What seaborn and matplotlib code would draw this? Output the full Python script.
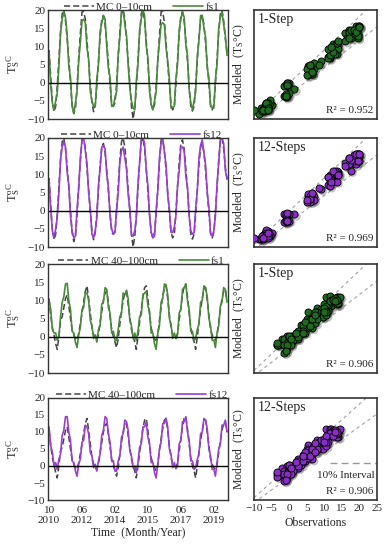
import matplotlib
matplotlib.use("Agg")
import matplotlib.pyplot as plt
import matplotlib.transforms as mtransforms
import numpy as np
import pandas as pd
import seaborn as sb

# monthly soil temperature (deg C), Oct 2010 .. Oct 2019
mc_0_10 = [9.0, 1.5, -5.0,
           -8.0, -6.5, -1.0, 6.5, 14.0, 19.0, 20.0, 17.0, 12.0, 6.5, 0.0, -6.0,
           -8.5, -7.0, -1.5, 7.0, 13.5, 19.5, 19.5, 17.5, 11.5, 6.0, -0.5, -5.5,
           -8.0, -6.0, -1.0, 6.0, 12.5, 17.5, 18.5, 16.0, 11.0, 5.5, -0.5, -6.0,
           -6.5, -5.5, -0.5, 7.0, 14.0, 19.0, 20.0, 17.5, 12.0, 6.0, 0.0, -6.5,
           -10.0, -7.0, -1.5, 6.5, 13.5, 19.0, 20.0, 17.0, 11.5, 5.5, -1.0, -6.0,
           -7.5, -6.0, -1.0, 6.0, 13.0, 19.5, 19.5, 16.5, 11.0, 5.0, -0.5, -6.0,
           -7.5, -6.5, -0.5, 6.5, 13.5, 18.5, 19.5, 17.0, 11.5, 6.0, -1.0, -6.5,
           -7.8, -6.5, -1.0, 6.0, 12.5, 17.5, 18.5, 16.0, 11.0, 5.0, -0.5, -6.0,
           -7.5, -6.0, -0.5, 6.5, 14.0, 19.0, 20.0, 17.0, 12.0, 8.5]
fs1_0_10 = [8.5, -0.5, -5.5,
            -7.5, -5.0, -3.0, 4.5, 13.5, 17.5, 19.5, 18.0, 13.0, 4.5, 1.5, -6.5,
            -8.5, -5.5, -2.5, 6.0, 11.0, 17.0, 17.5, 16.5, 9.5, 6.5, -2.5, -5.0,
            -6.5, -6.5, 1.0, 5.0, 14.0, 16.5, 18.5, 17.5, 10.0, 4.0, 1.5, -6.5,
            -6.5, -4.0, -2.5, 8.0, 12.5, 20.0, 20.0, 16.0, 13.0, 5.0, -1.5, -5.0,
            -7.0, -7.5, 0.5, 5.0, 14.5, 17.5, 20.0, 18.5, 10.0, 7.0, -2.5, -6.0,
            -7.5, -5.0, -2.5, 6.5, 11.0, 16.0, 16.5, 16.0, 9.5, 6.0, 1.0, -7.0,
            -6.8, -6.5, 1.0, 5.0, 14.5, 17.5, 19.5, 18.0, 10.5, 7.5, -2.0, -5.5,
            -7.5, -5.0, -2.5, 7.5, 11.5, 18.5, 18.5, 15.0, 12.5, 4.0, 1.5, -6.5,
            -7.0, -7.0, 1.0, 5.0, 15.0, 18.0, 19.5, 16.0, 13.0, 7.5]
fs12_0_10 = [8.5, 0.5, -5.5,
             -7.5, -5.0, -2.0, 5.0, 14.0, 17.5, 19.0, 17.5, 10.5, 7.0, -1.5, -5.5,
             -7.5, -7.0, 0.5, 6.0, 14.5, 19.5, 20.0, 16.5, 13.0, 5.0, 0.5, -6.5,
             -7.5, -5.5, -2.0, 7.0, 11.5, 17.5, 18.0, 17.0, 10.0, 6.5, -1.5, -5.0,
             -6.5, -6.0, 0.5, 5.0, 13.5, 16.5, 17.5, 14.5, 11.5, 4.5, 0.5, -6.5,
             -7.0, -5.5, -2.0, 7.5, 13.0, 20.0, 20.0, 18.5, 11.0, 7.0, -1.5, -6.0,
             -7.5, -7.0, 0.0, 5.5, 14.5, 18.5, 20.0, 16.0, 12.5, 4.5, 0.5, -6.0,
             -6.0, -4.5, -1.5, 7.0, 11.0, 17.5, 17.5, 16.5, 9.5, 6.5, -1.5, -5.5,
             -6.5, -6.0, 0.5, 5.5, 14.5, 18.0, 19.5, 16.0, 12.5, 5.0, 1.0, -6.5,
             -7.0, -5.5, -1.5, 7.5, 13.0, 20.0, 20.0, 18.5, 11.0, 9.0]
mc_40_100 = [10.5, 6.0, 2.5,
             0.5, -2.0, -3.5, 0.0, 4.5, 5.5, 8.0, 10.5, 11.5, 8.5, 5.0, 2.0,
             0.5, -0.5, -1.0, 1.0, 3.5, 6.5, 9.5, 12.5, 14.0, 10.5, 6.5, 2.5,
             0.5, -0.5, -1.0, 0.5, 4.0, 7.0, 10.0, 12.0, 12.5, 9.5, 5.5, 2.0,
             0.0, -1.5, -3.0, -0.5, 3.5, 7.0, 10.0, 12.0, 12.5, 9.0, 5.5, 2.0,
             0.0, -1.5, -3.5, 0.0, 4.0, 7.5, 11.0, 13.5, 14.0, 10.5, 6.0, 2.5,
             0.5, -0.5, -1.5, 0.5, 4.5, 8.0, 11.0, 13.5, 14.0, 10.5, 6.0, 2.5,
             0.5, 0.0, -0.5, 1.0, 4.5, 8.0, 11.5, 14.0, 14.5, 11.0, 6.5, 2.5,
             0.0, -1.5, -3.5, 0.0, 4.0, 7.5, 10.5, 13.0, 13.5, 10.0, 6.0, 2.0,
             0.5, -0.5, -1.0, 0.5, 4.0, 7.5, 10.5, 12.5, 13.0, 10.0]
fs1_40_100 = [10.0, 7.5, 2.0,
              1.0, 1.0, -1.0, 0.0, 5.5, 9.5, 11.0, 14.5, 14.7, 10.0, 7.5, 1.5,
              1.0, -1.5, -3.0, 0.5, 2.5, 7.5, 8.0, 12.0, 12.0, 10.0, 4.5, 3.0,
              -0.5, 0.5, -1.5, 2.0, 3.0, 9.0, 9.5, 13.5, 13.0, 8.0, 6.5, 1.0,
              1.5, -1.0, -1.0, 2.0, 5.5, 6.5, 12.0, 11.5, 12.8, 10.5, 4.5, 3.0,
              -0.5, 1.0, -1.0, 1.5, 5.5, 6.0, 11.5, 12.0, 12.5, 8.5, 7.0, 1.0,
              1.0, -2.0, -3.5, 1.0, 3.0, 9.5, 10.5, 14.5, 14.3, 11.5, 5.0, 3.5,
              -0.5, 1.0, -0.5, 0.5, 6.5, 7.5, 13.0, 13.5, 14.5, 10.0, 7.5, 1.5,
              1.5, -1.0, -0.5, 2.0, 3.5, 9.5, 10.0, 14.0, 13.5, 11.0, 5.0, 3.0,
              -1.0, -1.0, -3.0, 1.0, 3.0, 8.5, 9.5, 13.5, 13.0, 9.5]
fs12_40_100 = [11.5, 6.0, 4.0,
               0.0, 1.0, -1.0, 2.0, 3.5, 9.0, 10.5, 14.5, 14.5, 10.0, 7.5, 1.5,
               1.0, -1.5, -3.0, 0.5, 2.0, 7.0, 7.5, 12.0, 11.5, 9.5, 4.0, 3.0,
               -0.5, 0.5, -1.5, 1.5, 3.5, 9.0, 10.5, 14.5, 14.0, 9.5, 7.0, 1.5,
               1.5, -1.5, -1.5, 1.5, 3.0, 8.5, 9.5, 13.5, 13.0, 10.5, 4.5, 3.0,
               -0.5, 0.0, -2.0, 1.0, 5.5, 6.5, 11.5, 11.5, 13.0, 8.5, 6.5, 1.0,
               1.0, -2.0, -3.5, 0.5, 5.0, 7.0, 12.5, 12.5, 14.0, 11.5, 5.0, 3.5,
               -0.5, 1.0, -0.8, 0.0, 6.5, 7.5, 13.0, 13.0, 14.5, 10.0, 7.5, 1.5,
               1.5, -1.0, -0.5, 2.0, 3.5, 9.5, 10.0, 14.0, 13.5, 11.0, 5.0, 3.0,
               -1.0, -1.0, -3.0, 1.0, 5.0, 6.5, 12.0, 12.0, 13.5, 10.0]

r2_values = [0.952, 0.969, 0.906, 0.906]
step_names = ["1-Step", "12-Steps", "1-Step", "12-Steps"]
depth_names = ["MC 0\u201310cm", "MC 0\u201310cm", "MC 40\u2013100cm", "MC 40\u2013100cm"]
model_names = ["fs1", "fs12", "fs1", "fs12"]
time_ticks = ["2010-10-01", "2012-06-01", "2014-02-01", "2015-10-01", "2017-06-01", "2019-02-01"]
time_ticklabels = ["10\n2010", "06\n2012", "02\n2014", "10\n2015", "06\n2017", "02\n2019"]

green_line = "#4a8a3c"
green_pt = "#1f6a1f"
purple_line = "#9a3fcf"
purple_pt = "#8a2fc6"

sb.set_style("white")
plt.rcParams["font.family"] = ["Liberation Serif", "DejaVu Serif"]
plt.rcParams["mathtext.fontset"] = "stix"

dates = pd.date_range("2010-10-01", periods=len(mc_0_10), freq="MS")
panels = [
    (mc_0_10, fs1_0_10, green_line, green_pt),
    (mc_0_10, fs12_0_10, purple_line, purple_pt),
    (mc_40_100, fs1_40_100, green_line, green_pt),
    (mc_40_100, fs12_40_100, purple_line, purple_pt),
]

fig = plt.figure(figsize=(3.86, 5.5), dpi=100)
rows = [(0.7836, 0.1982), (0.5509, 0.1982), (0.3218, 0.1982), (0.0909, 0.1855)]

for i, (obs, mod, lc, pc) in enumerate(panels):
    t = pd.DataFrame({"date": dates, "obs": obs, "mod": mod})
    bottom, height = rows[i]

    # serie de timp
    ax = fig.add_axes([0.1244, bottom, 0.4663, height])
    sb.lineplot(data=t, x="date", y="obs", ax=ax, color="#444444", lw=1.1,
                label=depth_names[i])
    ax.lines[-1].set_dashes((4, 2))
    sb.lineplot(data=t, x="date", y="mod", ax=ax, color=lc, lw=1.2, label=model_names[i])
    ax.axhline(0, color="black", lw=1)
    ax.set_ylim(-10, 20)
    ax.set_yticks(np.arange(-10, 21, 5))
    ax.set_xlim(pd.Timestamp("2010-09-12"), pd.Timestamp("2019-10-20"))
    ax.set_xticks(pd.to_datetime(time_ticks))
    if i == 3:
        ax.set_xticklabels(time_ticklabels, linespacing=1.2)
        ax.set_xlabel("Time  (Month/Year)", fontsize=8.5, labelpad=1)
    else:
        ax.set_xticklabels([])
        ax.set_xlabel("")
    ax.tick_params(axis="both", direction="in", length=3, labelsize=8, pad=2)
    ax.tick_params(axis="x", length=0, pad=4)
    ax.set_ylabel(r"$\mathregular{T_S^{oC}}$", fontsize=9, labelpad=4)
    for s in ax.spines.values():
        s.set_color("#333333")
        s.set_linewidth(1.0)
    ax.legend(loc="lower center", bbox_to_anchor=(0.52, 0.985), ncol=2, frameon=False,
              fontsize=8, handlelength=2.7, columnspacing=1.9, handletextpad=0.2,
              borderaxespad=0, borderpad=0)

    # observatii vs modelat
    ax2 = fig.add_axes([0.658, bottom, 0.3187, height])
    xx = np.array([-10, 25])
    ax2.plot(xx, 1.07 * xx + 1.5, color="#a0a0a0", lw=0.8, ls=(0, (3, 3)))
    ax2.plot(xx, 0.87 * xx - 2.2, color="#a0a0a0", lw=0.8, ls=(0, (3, 3)))
    shadow = mtransforms.offset_copy(ax2.transData, fig=fig, x=1.6, y=-1.6, units="points")
    ax2.scatter(t["obs"], t["mod"], s=34, color="#555555", alpha=0.35,
                edgecolors="none", transform=shadow, zorder=2)
    sb.scatterplot(data=t, x="obs", y="mod", ax=ax2, color=pc, s=26,
                   edgecolor="black", linewidth=0.6, zorder=3)
    ax2.set_xlim(-10, 25)
    ax2.set_ylim(-10, 25)
    ax2.set_xticks(np.arange(-10, 26, 5))
    ax2.set_yticks(np.arange(-5, 21, 5))
    ax2.set_yticklabels([])
    ax2.tick_params(axis="both", direction="in", length=3, labelsize=8, pad=3)
    if i == 3:
        ax2.set_xlabel("Observations", fontsize=8.5, labelpad=3)
        ax2.plot([0.62, 1.0], [0.36, 0.36], transform=ax2.transAxes, color="#999999",
                 lw=1, ls=(0, (5, 3)))
        ax2.text(0.98, 0.2, "10% Interval", transform=ax2.transAxes, ha="right",
                 va="bottom", fontsize=8)
    else:
        ax2.set_xticklabels([])
        ax2.set_xlabel("")
    ax2.set_ylabel(r"Modeled  ($\mathregular{T_S}$°C)", fontsize=8.5, labelpad=2)
    ax2.text(0.03, 0.97, step_names[i], transform=ax2.transAxes, ha="left", va="top",
             fontsize=10)
    ax2.text(0.97, 0.04, "R\u00b2 = %.3f" % r2_values[i], transform=ax2.transAxes,
             ha="right", va="bottom", fontsize=8)
    for s in ax2.spines.values():
        s.set_color("#333333")
        s.set_linewidth(1.2)

fig.savefig("out.png", dpi=100)
